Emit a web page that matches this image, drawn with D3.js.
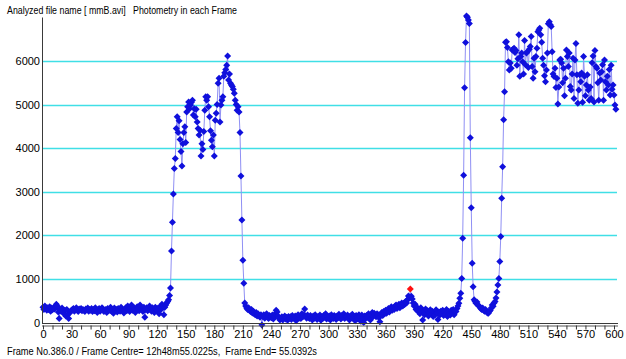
<!DOCTYPE html>
<html><head><meta charset="utf-8">
<script src="https://cdn.jsdelivr.net/npm/d3@7"></script>
<style>
body{margin:0;background:#fff;}
svg{display:block;font-family:"Liberation Sans",Arial,sans-serif;}
</style>
</head><body>
<svg id="chart" width="626" height="359"></svg>
<script>
// Photometry value for each frame (index = frame number)
const photometry = [
350,300,380,320,280,340,300,360,260,330,
290,340,310,360,420,380,240,90,300,260,
330,250,200,280,150,300,180,90,220,260,
280,300,320,260,300,340,280,250,310,290,
320,270,300,280,250,310,290,330,260,300,
280,320,250,300,270,340,290,230,300,320,
260,290,340,310,250,280,300,230,320,270,
300,350,260,290,210,330,280,300,240,320,
290,260,350,310,280,220,300,340,270,380,
300,250,330,400,280,350,320,230,290,360,
330,270,400,310,290,250,350,120,300,340,
270,320,380,290,260,340,300,230,350,310,
280,330,200,360,300,420,380,180,350,400,
450,480,520,620,790,1640,2300,2950,3530,3760,
4450,4720,4360,4630,4200,3920,3590,4100,4360,4490,
4130,4830,4950,5060,4900,4990,5050,5100,4760,4900,
4720,4890,4600,4450,4300,4410,3820,4100,3970,4380,
4870,5180,5100,5180,4950,4720,4400,4180,4030,4300,
3820,4640,4800,5000,5490,5600,4600,4990,5100,5180,
5650,5730,5800,5900,6110,5560,5700,5490,5450,5410,
5350,5260,5100,5000,4870,4950,4830,4360,3360,2350,
1430,900,450,380,330,300,340,280,250,300,
220,260,200,180,230,150,200,160,120,180,
-60,140,180,100,150,200,120,90,160,130,
110,170,80,140,200,280,240,150,100,60,
90,130,60,110,150,80,120,50,140,100,
130,70,160,110,90,150,40,120,180,100,
140,90,200,130,180,310,150,100,170,120,
90,160,120,60,150,100,180,130,70,140,
110,170,50,130,90,160,120,200,80,140,
100,150,60,180,120,90,160,130,70,150,
110,190,140,80,160,120,200,90,150,130,
170,100,60,150,120,190,90,140,40,160,
120,80,180,140,30,170,110,0,150,90,
160,120,200,150,60,180,230,140,210,170,
130,200,180,110,20,190,230,160,250,200,
280,210,260,320,240,300,360,280,340,300,
380,400,320,360,420,340,390,450,380,440,
410,480,450,520,610,560,770,600,540,450,
380,420,300,350,260,300,200,340,280,60,
250,180,310,220,270,150,230,290,200,260,
140,230,180,290,210,70,240,170,260,200,
280,160,230,190,300,140,250,210,170,280,
220,300,180,260,250,320,380,440,555,670,
1010,1930,3380,5385,6420,7030,7000,6940,6860,4240,
2630,1360,820,520,480,440,470,400,380,360,
320,300,330,280,260,300,250,220,210,250,
280,330,400,370,450,480,560,700,860,1010,
1400,1970,2850,3570,4650,5290,6430,6440,6310,5980,
5790,5950,5830,6250,6270,6290,6190,6240,5900,6050,
6600,5650,6100,6180,5980,5700,6470,5910,6180,6210,
5850,6270,6330,6560,5870,5600,6060,5750,6100,6290,
6670,6710,6750,6600,6430,6060,5900,5660,5520,5790,
6180,6850,6900,6830,6790,6210,5700,5640,5830,5390,
5600,5010,5400,6020,6040,5950,5500,5830,5200,5600,
6250,6100,5870,6180,5410,5330,5700,6060,5140,6020,
6400,5680,5030,5330,5680,5520,5720,5050,6100,5650,
5200,5450,5680,5330,5100,5400,5140,5960,6110,5060,
6240,5870,5830,5500,5100,5720,5560,5750,5910,5100,
6020,5520,5330,5650,5450,5800,5220,5900,5350,5450,
5220,4990,4890
];
const xLabelTicks = [0,30,60,90,120,150,180,210,240,270,300,330,360,390,420,450,480,510,540,570,600];
const xMinorTicks = d3.range(0, 601, 10);
const yLabelTicks = [0,1000,2000,3000,4000,5000,6000];
const gridTicks = [1000,2000,3000,4000,5000,6000];
const selectedFrame = 386;
const titleText = "Analyzed file name [ mmB.avi]   Photometry in each Frame";
const footerText = "Frame No.386.0 / Frame Centre= 12h48m55.0225s,  Frame End= 55.0392s";

const svg = d3.select("#chart");
const x = d3.scaleLinear().domain([0, 600]).range([43, 614]);
const y = d3.scaleLinear().domain([0, 7000]).range([322.5, 17.3]);

// gridlines
svg.append("g").selectAll("line").data(gridTicks).join("line")
  .attr("x1", 43).attr("x2", 617)
  .attr("y1", d => Math.round(y(d)) + 0.5).attr("y2", d => Math.round(y(d)) + 0.5)
  .attr("stroke", "#40dfe6").attr("stroke-width", 1.3);

// connecting line
const pts = photometry.map((v, i) => ({f: i, v}));
svg.append("path").datum(pts)
  .attr("fill", "none").attr("stroke", "#9090f4").attr("stroke-width", 1)
  .attr("d", d3.line().x(d => x(d.f)).y(d => y(d.v)));

// markers
const diamond = "M0,-3.5L3.5,0L0,3.5L-3.5,0Z";
svg.append("g").selectAll("path").data(pts.filter(d => d.f !== selectedFrame)).join("path")
  .attr("d", diamond)
  .attr("transform", d => `translate(${x(d.f)},${y(d.v)})`)
  .attr("fill", "#1010dc");
svg.append("path").datum(pts[selectedFrame])
  .attr("d", diamond)
  .attr("transform", d => `translate(${x(d.f)},${y(d.v)})`)
  .attr("fill", "#ff1010");

// y axis line
svg.append("line").attr("x1", 42.5).attr("x2", 42.5).attr("y1", 17.5).attr("y2", 324)
  .attr("stroke", "#3a3a3a").attr("stroke-width", 1);

// y labels
const yAxis = d3.axisLeft(y).tickValues(yLabelTicks).tickSize(0).tickPadding(0).tickFormat(d3.format("d"));
const gy = svg.append("g").attr("transform", "translate(40,0)").call(yAxis);
gy.select(".domain").remove();
gy.selectAll("text").attr("font-size", "11px").attr("fill", "#000")
  .attr("font-family", "Liberation Sans, Arial, sans-serif");

// x axis (double line + ticks)
svg.append("line").attr("x1", 42).attr("x2", 618).attr("y1", 323.5).attr("y2", 323.5)
  .attr("stroke", "#3a3a3a").attr("stroke-width", 1);
const xAxis = d3.axisBottom(x).tickValues(xMinorTicks).tickSize(4).tickPadding(1)
  .tickFormat(d => xLabelTicks.includes(d) ? String(d) : "");
const gx = svg.append("g").attr("transform", "translate(0,325.5)").call(xAxis);
gx.select(".domain").attr("d", "M42,0.5H618").attr("stroke", "#555");
gx.selectAll(".tick line").attr("stroke", "#333");
gx.selectAll("text").attr("font-size", "11px").attr("fill", "#000")
  .attr("font-family", "Liberation Sans, Arial, sans-serif");

// texts
svg.append("text").attr("x", 7).attr("y", 14).attr("font-size", "11px")
  .attr("textLength", 230).attr("lengthAdjust", "spacingAndGlyphs")
  .style("white-space", "pre")
  .text(titleText);
svg.append("text").attr("x", 7).attr("y", 355).attr("font-size", "11px")
  .attr("textLength", 310).attr("lengthAdjust", "spacingAndGlyphs")
  .style("white-space", "pre")
  .text(footerText);
</script>
</body></html>
